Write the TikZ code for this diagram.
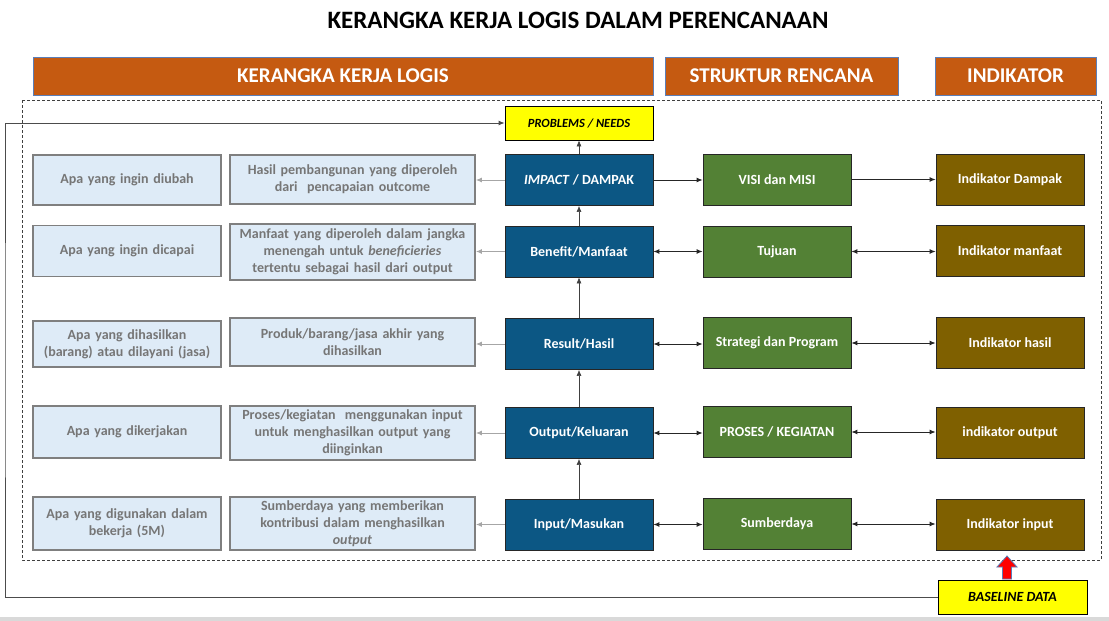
\documentclass[tikz,border=0pt]{standalone}
\usepackage{fontspec}
\setmainfont{Carlito}
\usetikzlibrary{arrows.meta}
\definecolor{orng}{HTML}{C55A11}
\definecolor{hdrline}{HTML}{5A7EB8}
\definecolor{lblue}{HTML}{DEEBF7}
\definecolor{bordgray}{HTML}{7F7F7F}
\definecolor{txtgray}{HTML}{767676}
\definecolor{dblue}{HTML}{0C5784}
\definecolor{dgreen}{HTML}{538135}
\definecolor{brwn}{HTML}{7F6000}
\definecolor{ylw}{HTML}{FFFF00}
\definecolor{band}{HTML}{D9D9D9}
\definecolor{arrgray}{HTML}{A6A6A6}
\begin{document}
\begin{tikzpicture}[x=1pt,y=-1pt,
  hdr/.style={draw=hdrline, line width=0.8pt, fill=orng, text=white, font=\fontsize{21}{24}\selectfont\bfseries, minimum height=38pt, inner sep=0pt},
  descbox/.style={draw=bordgray, line width=1.8pt, fill=lblue, text=txtgray, font=\fontsize{14}{17}\selectfont\bfseries, align=center, inner sep=1pt},
  bluebox/.style={draw=black!85, line width=0.8pt, fill=dblue, text=white, font=\fontsize{14}{17}\selectfont\bfseries, minimum width=148pt, minimum height=51pt, inner sep=0pt, align=center},
  greenbox/.style={bluebox, fill=dgreen},
  brownbox/.style={bluebox, fill=brwn},
  ybox/.style={draw=black, line width=0.8pt, fill=ylw, text=black, font=\fontsize{12.5}{15}\selectfont\bfseries\itshape, inner sep=0pt},
  uparr/.style={draw=black!75, line width=0.6pt, -{Latex[length=6pt,width=5pt]}},
  grayarr/.style={draw=arrgray, line width=1pt, -{Latex[length=6pt,width=5pt]}},
  dblarr/.style={draw=black!85, line width=0.9pt, {Latex[length=6pt,width=5pt]}-{Latex[length=6pt,width=5pt]}},
  sglarr/.style={draw=black!85, line width=0.9pt, -{Latex[length=6pt,width=5pt]}},
  fbline/.style={draw=black!70, line width=0.9pt, -{Latex[length=6pt,width=5pt]}}
]
\useasboundingbox (0,0) rectangle (1109,621);
\fill[white] (0,0) rectangle (1109,621);
\fill[band] (0,617) rectangle (1109,621);

% title
\node[font=\fontsize{25}{28}\selectfont\bfseries] (title) at (578,20) {KERANGKA KERJA LOGIS DALAM PERENCANAAN};

% headers
\node[hdr, minimum width=620pt] (h1) at (343,76) {KERANGKA KERJA LOGIS};
\node[hdr, minimum width=233pt] (h2) at (781.5,76) {STRUKTUR RENCANA};
\node[hdr, minimum width=161pt] (h3) at (1015.5,76) {INDIKATOR};

% dashed frame
\draw[black!75, line width=1pt, dash pattern=on 3pt off 2pt] (22,100) rectangle (1101,560);

% problems
\node[ybox, minimum width=148pt, minimum height=34pt] (prob) at (579,123) {PROBLEMS / NEEDS};

% column 1
\node[descbox, minimum width=188pt, minimum height=50pt, text width=184pt] (a1) at (127,180) {Apa yang ingin diubah};
\node[descbox, minimum width=188pt, minimum height=51pt, text width=184pt] (a2) at (127,251) {Apa yang ingin dicapai};
\node[descbox, minimum width=188pt, minimum height=46pt, text width=184pt] (a3) at (127,344) {Apa yang dihasilkan\\(barang) atau dilayani (jasa)};
\node[descbox, minimum width=188pt, minimum height=52pt, text width=184pt] (a4) at (127,432) {Apa yang dikerjakan};
\node[descbox, minimum width=188pt, minimum height=53pt, text width=184pt] (a5) at (127,523.5) {Apa yang digunakan dalam\\bekerja (5M)};

% column 2
\node[descbox, minimum width=245pt, minimum height=49pt, text width=241pt] (b1) at (352.5,179.5) {Hasil pembangunan yang diperoleh\\dari\ \ pencapaian outcome};
\node[descbox, minimum width=245pt, minimum height=56pt, text width=241pt] (b2) at (352.5,252) {Manfaat yang diperoleh dalam jangka\\menengah untuk \textit{beneficieries}\\tertentu sebagai hasil dari output};
\node[descbox, minimum width=245pt, minimum height=48pt, text width=241pt] (b3) at (352.5,342) {Produk/barang/jasa akhir yang\\dihasilkan};
\node[descbox, minimum width=245pt, minimum height=54pt, text width=241pt] (b4) at (352.5,433) {Proses/kegiatan\ \ menggunakan input\\untuk menghasilkan output yang\\diinginkan};
\node[descbox, minimum width=245pt, minimum height=53pt, text width=241pt] (b5) at (352.5,523.5) {Sumberdaya yang memberikan\\kontribusi dalam menghasilkan\\\textit{output}};

% blue column
\node[bluebox] (c1) at (579,180) {\textit{IMPACT} / DAMPAK};
\node[bluebox] (c2) at (579,251.5) {Benefit/Manfaat};
\node[bluebox] (c3) at (579,344) {Result/Hasil};
\node[bluebox] (c4) at (579,433) {Output/Keluaran};
\node[bluebox] (c5) at (579,524.5) {Input/Masukan};

% green column
\node[greenbox] (d1) at (777,179.5) {VISI dan MISI};
\node[greenbox] (d2) at (777,251.5) {Tujuan};
\node[greenbox] (d3) at (777,343) {Strategi dan Program};
\node[greenbox] (d4) at (777,432) {PROSES / KEGIATAN};
\node[greenbox] (d5) at (777,524) {Sumberdaya};

% brown column
\node[brownbox] (e1) at (1010,180) {Indikator Dampak};
\node[brownbox] (e2) at (1010,251) {Indikator manfaat};
\node[brownbox] (e3) at (1010,343) {Indikator hasil};
\node[brownbox] (e4) at (1010,433) {indikator output};
\node[brownbox] (e5) at (1010,524.5) {Indikator input};

% baseline
\node[ybox, minimum width=149pt, minimum height=34pt, font=\fontsize{14}{16}\selectfont\bfseries\itshape] (base) at (1012.5,597) {BASELINE DATA};

% vertical arrows
\draw[uparr] (c5.north) -- (c4.south);
\draw[uparr] (c4.north) -- (c3.south);
\draw[uparr] (c3.north) -- (c2.south);
\draw[uparr] (c2.north) -- (c1.south);
\draw[uparr] (c1.north) -- (prob.south);

% gray arrows to col 2
\foreach \i in {1,...,5} {
  \draw[grayarr] (c\i.west) -- (c\i.west -| b\i.east);
}

% blue-green, green-brown
\draw[sglarr] (c1.east) -- (c1.east -| d1.west);
\draw[sglarr] (d1.east) -- (d1.east -| e1.west);
\foreach \i in {2,...,5} {
  \draw[dblarr] (c\i.east) -- (c\i.east -| d\i.west);
  \draw[dblarr] (d\i.east) -- (d\i.east -| e\i.west);
}

% feedback line
\coordinate (fbc) at (5,360);
\draw[fbline] (base.west) -| (fbc) |- (prob.west);

% red block arrow
\coordinate (rtip) at (1007,556);
\filldraw[fill=red, draw=hdrline, line width=0.8pt]
  (1002.5,579) -- (1002.5,567) -- (997,567) -- (rtip) -- (1017,567) -- (1011.5,567) -- (1011.5,579) -- cycle;
\end{tikzpicture}
\end{document}
